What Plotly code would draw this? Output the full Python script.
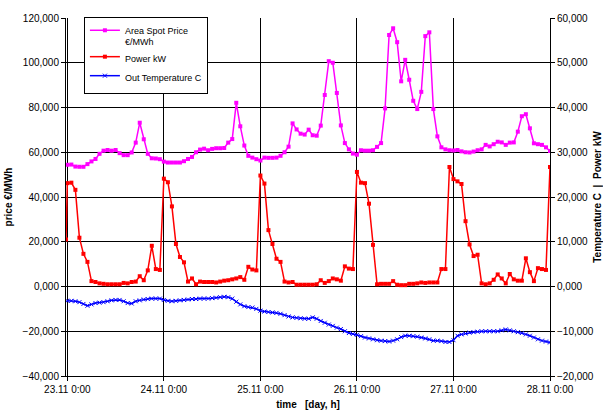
import pandas as pd
import plotly.graph_objects as go

# ---- data ----
start = "2023-11-23 00:00"
hours = pd.date_range(start, periods=121, freq="h")

price = [
    # 23.11
    54.4, 54.5, 53.6, 53.5, 53.5, 54.7, 55.9, 57.0, 59.3, 60.7, 61.0, 60.7,
    61.0, 59.6, 58.7, 58.7, 59.9, 64.3, 73.2, 65.8, 59.3, 57.3, 57.2, 56.9,
    # 24.11
    55.8, 55.4, 55.4, 55.4, 55.4, 56.0, 57.0, 57.9, 60.0, 61.2, 61.6, 60.9,
    61.5, 61.8, 61.8, 61.9, 64.3, 65.9, 82.1, 71.6, 63.0, 58.4, 57.6, 56.9,
    # 25.11
    56.3, 57.6, 57.5, 57.5, 57.6, 58.4, 60.0, 62.5, 72.9, 70.2, 68.3, 67.9,
    70.1, 67.6, 67.4, 71.9, 85.6, 100.7, 100.0, 86.5, 72.0, 64.1, 61.3, 59.4,
    # 26.11
    58.9, 60.9, 60.7, 60.7, 60.9, 62.4, 64.1, 79.6, 112.4, 115.4, 109.2, 91.7,
    101.3, 92.4, 83.0, 79.3, 87.0, 111.9, 113.6, 79.3, 67.1, 62.2, 61.3, 60.9,
    # 27.11
    60.8, 61.0, 60.4, 60.0, 59.9, 60.3, 60.9, 61.3, 63.3, 62.6, 63.6, 64.7,
    64.4, 63.3, 64.3, 64.4, 69.2, 76.1, 77.0, 70.7, 64.0, 63.6, 63.3, 62.2,
    # 28.11 0:00
    60.6,
]

power_first_time = "2023-11-22 23:40"
power_first_value = 10.5
power = [
    # 23.11
    23.1, 23.2, 21.6, 10.9, 7.3, 5.5, 1.2, 1.0, 0.7, 0.6, 0.5, 0.5,
    0.5, 0.5, 0.8, 0.7, 1.0, 1.1, 2.3, 1.4, 3.6, 9.1, 3.9, 3.7,
    # 24.11
    24.1, 23.3, 17.9, 9.5, 6.6, 5.4, 1.1, 1.8, 0.5, 1.1, 1.0, 1.0,
    1.0, 0.9, 1.1, 1.3, 1.4, 1.6, 1.8, 2.1, 1.5, 4.4, 3.8, 3.6,
    # 25.11
    24.8, 23.0, 12.6, 9.5, 6.2, 5.5, 1.1, 0.9, 1.0, 0.4, 0.4, 0.4,
    0.4, 0.4, 0.5, 1.4, 0.8, 1.2, 1.8, 1.6, 1.3, 4.5, 4.0, 3.9,
    # 26.11
    25.6, 23.2, 23.1, 18.5, 9.3, 0.5, 0.6, 0.6, 0.6, 1.2, 0.4, 0.3,
    0.3, 0.6, 0.6, 0.7, 0.9, 0.8, 0.9, 0.9, 0.9, 3.9, 3.9, 26.7,
    # 27.11
    24.0, 23.5, 22.9, 14.6, 9.4, 6.8, 7.1, 0.7, 0.5, 0.7, 1.5, 2.7,
    1.8, 0.7, 2.8, 1.6, 1.3, 1.3, 6.3, 3.2, 1.2, 4.1, 3.9, 3.7,
    # 28.11 0:00
    26.7,
]

temperature = [
    # 23.11
    -3.2, -3.2, -3.3, -3.5, -3.9, -4.3, -4.0, -3.7, -3.6, -3.5, -3.3, -3.1,
    -3.0, -3.0, -3.3, -3.7, -3.8, -3.3, -3.1, -2.9, -2.8, -2.7, -2.7, -2.7,
    # 24.11
    -3.0, -3.2, -3.3, -3.2, -3.1, -3.0, -2.9, -2.8, -2.8, -2.7, -2.7, -2.7,
    -2.6, -2.5, -2.4, -2.3, -2.4, -2.7, -3.4, -4.0, -4.4, -4.6, -4.7, -5.0,
    # 25.11
    -5.4, -5.6, -5.7, -5.8, -5.9, -6.1, -6.4, -6.7, -6.9, -7.0, -7.1, -7.2,
    -7.2, -6.9, -7.2, -7.7, -8.1, -8.5, -8.8, -9.2, -9.5, -10.0, -10.4, -10.6,
    # 26.11
    -10.8, -11.1, -11.4, -11.6, -11.8, -12.0, -12.1, -12.2, -12.3, -12.1, -11.8, -11.3,
    -11.0, -11.0, -11.1, -11.2, -11.4, -11.6, -11.8, -12.1, -12.1, -12.2, -12.4, -12.4,
    # 27.11
    -12.0, -11.0, -10.7, -10.5, -10.3, -10.2, -10.1, -10.0, -10.0, -10.0, -10.0, -10.0,
    -9.8, -9.6, -9.8, -10.0, -10.2, -10.4, -10.7, -11.0, -11.4, -11.8, -12.1, -12.3,
    # 28.11 0:00
    -12.5,
]

names = ["Area Spot Price<br>€/MWh", "Power kW", "Out Temperature C"]
colors = ["#FF00FF", "#FF0000", "#0000FF"]

power_x = [pd.Timestamp(power_first_time)] + list(hours)
power_y = [power_first_value] + power

FONT = "Arial, Liberation Sans, sans-serif"

fig = go.Figure()
fig.add_trace(go.Scatter(
    x=hours, y=price, name=names[0], mode="lines+markers",
    line=dict(color=colors[0], width=1.5),
    marker=dict(symbol="square", size=4, color=colors[0]),
    yaxis="y",
))
fig.add_trace(go.Scatter(
    x=power_x, y=power_y, name=names[1], mode="lines+markers",
    line=dict(color=colors[1], width=1.5),
    marker=dict(symbol="square", size=4, color=colors[1]),
    yaxis="y2",
))
fig.add_trace(go.Scatter(
    x=hours, y=temperature, name=names[2], mode="lines+markers",
    line=dict(color=colors[2], width=1.5),
    marker=dict(symbol="x-thin", size=4, color=colors[2],
                line=dict(color=colors[2], width=1)),
    yaxis="y2",
))

fig.update_layout(
    width=603, height=414,
    margin=dict(l=66, r=53, t=18, b=38, autoexpand=False),
    paper_bgcolor="white", plot_bgcolor="white",
    separators=",.",
    font=dict(family=FONT, size=10, color="black"),
    showlegend=True,
    legend=dict(
        x=0.037, y=1.003, xanchor="left", yanchor="top",
        bgcolor="white", bordercolor="black", borderwidth=1,
        font=dict(size=9, family=FONT, color="black"),
        valign="top", tracegroupgap=0, itemwidth=30,
    ),
    xaxis=dict(
        type="date", automargin=False,
        range=[pd.Timestamp(power_first_time), hours[-1]],
        tickformat="%d.%m %-H:%M",
        dtick=86400000, tick0=start,
        showgrid=True, gridcolor="black", gridwidth=1,
        showline=True, linecolor="black", linewidth=1,
        ticks="outside", ticklen=4, tickcolor="black",
        title=dict(text="<b>time   [day, h]</b>", standoff=6,
                   font=dict(size=10, family=FONT)),
        zeroline=False,
    ),
    yaxis=dict(
        automargin=False,
        range=[-40, 120], dtick=20, tickformat=".3f",
        showgrid=True, gridcolor="black", gridwidth=1,
        showline=True, linecolor="black", linewidth=1, mirror=False,
        ticks="outside", ticklen=4, tickcolor="black",
        zeroline=False,
        title=dict(text="<b>price €/MWh</b>", standoff=8,
                   font=dict(size=10, family=FONT)),
    ),
    yaxis2=dict(
        automargin=False,
        overlaying="y", side="right",
        range=[-20, 60], dtick=10, tickformat=".3f",
        showgrid=False,
        showline=True, linecolor="black", linewidth=1,
        ticks="outside", ticklen=4, tickcolor="black",
        zeroline=False,
        title=dict(text="<b>Temperature C  |  Power kW</b>", standoff=4,
                   font=dict(size=10, family=FONT)),
    ),
)

fig.write_html(
    "out.html",
    config={"displayModeBar": False},
    post_script="document.body.style.margin='0';document.body.style.padding='0';",
)
